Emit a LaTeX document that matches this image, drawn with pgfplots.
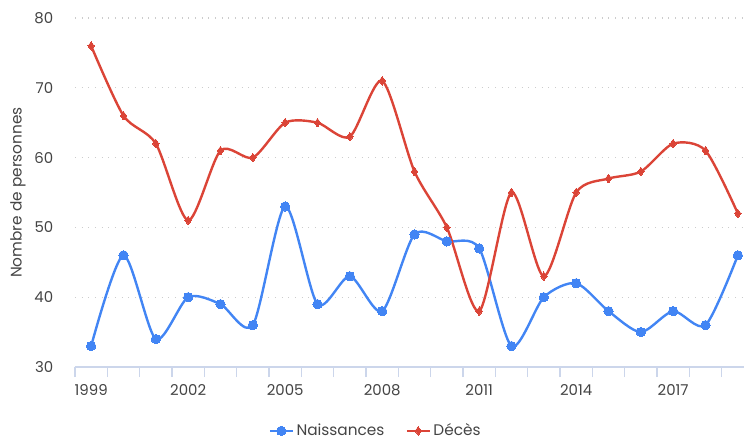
\documentclass[border=0pt]{standalone}
\usepackage{pgfplots}
\pgfplotsset{compat=1.18}
\usepackage{fontspec}
\setmainfont{Poppins}
\definecolor{cblue}{HTML}{4285F4}
\definecolor{cred}{HTML}{DB4437}
\definecolor{axisc}{HTML}{CCD6EB}
\definecolor{txt}{HTML}{444444}
\begin{document}
\begin{tikzpicture}
\useasboundingbox (0,0) rectangle (558pt,330pt);
\begin{axis}[
  at={(56.25pt,54.75pt)}, anchor=south west,
  scale only axis, width=501.75pt, height=261.75pt,
  xmin=1998.5, xmax=2019.19, ymin=30, ymax=80,
  clip=false,
  axis x line*=bottom, axis y line*=left,
  x axis line style={draw=axisc, line width=1.1pt, -},
  y axis line style={draw=none},
  xtick={1999,2002,2005,2008,2011,2014,2017},
  minor xtick={1998.5,1999.5,...,2018.5},
  major x tick style={draw=none},
  minor x tick style={draw=axisc, line width=1pt},
  minor tick length=7.5pt,
  tick align=outside,
  ytick={30,40,...,80},
  major y tick style={draw=none},
  ymajorgrids,
  grid style={draw=black!20, line width=0.8pt, dash pattern=on 0.8pt off 4.2pt},
  /pgf/number format/assume math mode=true,
  /pgf/number format/1000 sep={},
  tick label style={font=\fontsize{11.2}{13}\selectfont, text=txt},
  xticklabel style={yshift=-5pt},
  yticklabel style={xshift=-8.5pt},
  ylabel={Nombre de personnes},
  every axis y label/.append style={at={(axis description cs:0,0.5)}, anchor=center, yshift=42.75pt, font=\fontsize{11.5}{13}\selectfont, text=txt},
  legend columns=2,
  legend style={at={(axis description cs:0.45,-0.183)}, anchor=center, draw=none, fill=none,
    font=\fontsize{11.5}{13}\selectfont, text=txt,
    /tikz/every even column/.append style={column sep=14pt}},
  legend image code/.code={\draw[mark repeat=2,mark phase=2] plot coordinates {(0pt,0pt)(8.5pt,0pt)(17pt,0pt)};},
]
\addplot[cblue, line width=1.8pt, smooth, tension=0.45, mark=*, mark size=3.5pt, mark options={solid, line width=0pt}] coordinates {
(1999,33)(2000,46)(2001,34)(2002,40)(2003,39)(2004,36)(2005,53)(2006,39)(2007,43)(2008,38)
(2009,49)(2010,48)(2011,47)(2012,33)(2013,40)(2014,42)(2015,38)(2016,35)(2017,38)(2018,36)(2019,46)};
\addlegendentry{Naissances}
\addplot[cred, line width=1.8pt, smooth, tension=0.45, mark=diamond*, mark size=3.2pt, mark options={solid, line width=0pt}] coordinates {
(1999,76)(2000,66)(2001,62)(2002,51)(2003,61)(2004,60)(2005,65)(2006,65)(2007,63)(2008,71)
(2009,58)(2010,50)(2011,38)(2012,55)(2013,43)(2014,55)(2015,57)(2016,58)(2017,62)(2018,61)(2019,52)};
\addlegendentry{Décès}
\end{axis}
\end{tikzpicture}
\end{document}
